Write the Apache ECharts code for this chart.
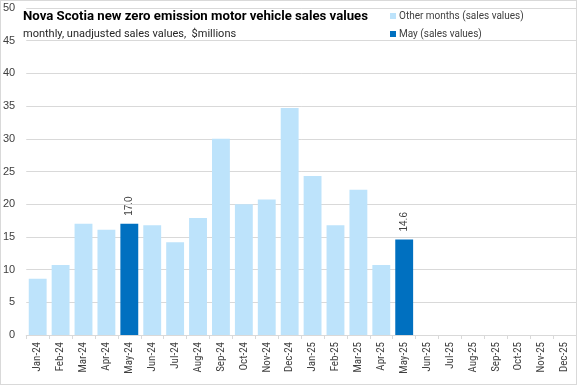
<!DOCTYPE html>
<html><head><meta charset="utf-8">
<script src="https://cdn.jsdelivr.net/npm/echarts@6/dist/echarts.min.js"></script>
<style>html,body{margin:0;padding:0;background:#fff}#c{width:577px;height:385px}#b{position:absolute;left:0;top:0;width:577px;height:385px;box-sizing:border-box;border:1px solid #d9d9d9;pointer-events:none}</style>
</head><body><div id="c"></div><div id="b"></div>
<script>
const categories = ["Jan-24","Feb-24","Mar-24","Apr-24","May-24","Jun-24","Jul-24","Aug-24","Sep-24","Oct-24","Nov-24","Dec-24","Jan-25","Feb-25","Mar-25","Apr-25","May-25","Jun-25","Jul-25","Aug-25","Sep-25","Oct-25","Nov-25","Dec-25"];
const otherMonths = [8.6,10.7,17.0,16.1,null,16.8,14.2,17.9,30.0,20.0,20.7,34.7,24.3,16.8,22.2,10.7,null,null,null,null,null,null,null,null];
const mayValues = [null,null,null,null,17.0,null,null,null,null,null,null,null,null,null,null,null,14.6,null,null,null,null,null,null,null];
const yTicks = {min:0,max:50,interval:5};
const chart = echarts.init(document.getElementById('c'), null, {renderer:'canvas'});
const narrow = '"Liberation Sans Narrow", "Roboto Condensed", sans-serif';
const roboto = 'Roboto, sans-serif';
const arial = '"Liberation Sans", Arial, sans-serif';
chart.setOption({
  animation:false,
  textStyle:{fontFamily:roboto},
  title:{text:'Nova Scotia new zero emission motor vehicle sales values',
    subtext:'monthly, unadjusted sales values,  $millions',
    left:23, top:10, padding:0, itemGap:6,
    textStyle:{fontSize:13.2,fontWeight:'bold',color:'#000',fontFamily:roboto},
    subtextStyle:{fontSize:11,color:'#262626',fontFamily:roboto}},
  legend:{orient:'vertical', left:390, top:11, padding:0, itemWidth:6, itemHeight:6, itemGap:8,
    textStyle:{fontSize:10,color:'#404040',padding:[0,0,0,-2],fontFamily:roboto},
    data:[{name:'Other months (sales values)',icon:'rect'},{name:'May (sales values)',icon:'rect'}]},
  grid:{left:25,right:1,top:8,bottom:50,containLabel:false},
  xAxis:{type:'category',data:categories,
    axisLine:{lineStyle:{color:'#d9d9d9'}},
    axisTick:{show:true,length:4,lineStyle:{color:'#d9d9d9'}},
    axisLabel:{rotate:90,fontSize:11,color:'#404040',margin:7,interval:0,fontFamily:narrow}},
  yAxis:{type:'value',min:yTicks.min,max:yTicks.max,interval:yTicks.interval,
    axisLine:{show:false},axisTick:{show:false},
    splitLine:{lineStyle:{color:'#d9d9d9'}},
    axisLabel:{fontSize:11,color:'#404040',margin:11,fontFamily:arial}},
  series:[
    {name:'Other months (sales values)',type:'bar',stack:'s',data:otherMonths,barCategoryGap:'22%',
      itemStyle:{color:'#BDE3FB'}},
    {name:'May (sales values)',type:'bar',stack:'s',data:mayValues,barCategoryGap:'22%',
      itemStyle:{color:'#0070C0'},
      label:{show:true,position:'top',rotate:90,align:'left',verticalAlign:'middle',distance:8,
        formatter:p=>p.value==null?'':p.value.toFixed(1),fontSize:10,color:'#404040',fontFamily:arial}}
  ]
});
</script></body></html>
